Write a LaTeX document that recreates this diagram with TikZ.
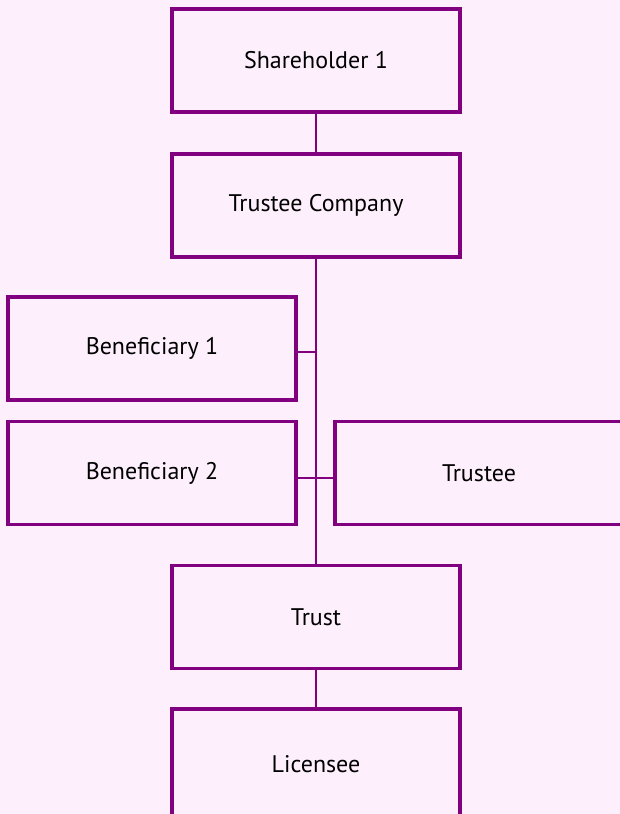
\documentclass[tikz,border=0pt]{standalone}
\usepackage{fontspec}
\setmainfont{PT Sans}
\definecolor{orgline}{HTML}{800080}
\definecolor{orgback}{HTML}{FDF0FC}

\begin{document}
\begin{tikzpicture}[x=1pt, y=-1pt,
    entity/.style={draw=orgline, line width=3.6pt, fill=orgback,
        minimum width=288pt, minimum height=103pt, inner sep=0pt,
        font=\fontsize{24}{28}\selectfont},
    link/.style={draw=orgline, line width=2.8pt}]
    % Draw background and fix the size
    \fill[orgback] (0,0) rectangle (620,814);
    \useasboundingbox (0,0) rectangle (620,814);

    % Draw the entities
    \node[entity] (share) at (316,60.5) {Shareholder 1};
    \node[entity] (company) at (316,205.5) {Trustee Company};
    \node[entity] (ben1) at (152,348.5) {Beneficiary 1};
    \node[entity] (ben2) at (152,473) {Beneficiary 2};
    \node[entity] (trustee) at (479,473) {Trustee};
    \node[entity] (trust) at (316,617) {Trust};
    \node[entity, minimum height=110pt] (licensee) at (316,764) {Licensee};

    % Draw the links
    \draw[link] (share) -- (company);
    \draw[link] (company) -- (trust);
    \draw[link] (trust) -- (licensee);
    \coordinate (tap1) at (316,352);
    \coordinate (tap2) at (316,478);
    \draw[link] (ben1.east |- tap1) -- (tap1);
    \draw[link] (ben2.east |- tap2) -- (trustee.west |- tap2);
\end{tikzpicture}
\end{document}
